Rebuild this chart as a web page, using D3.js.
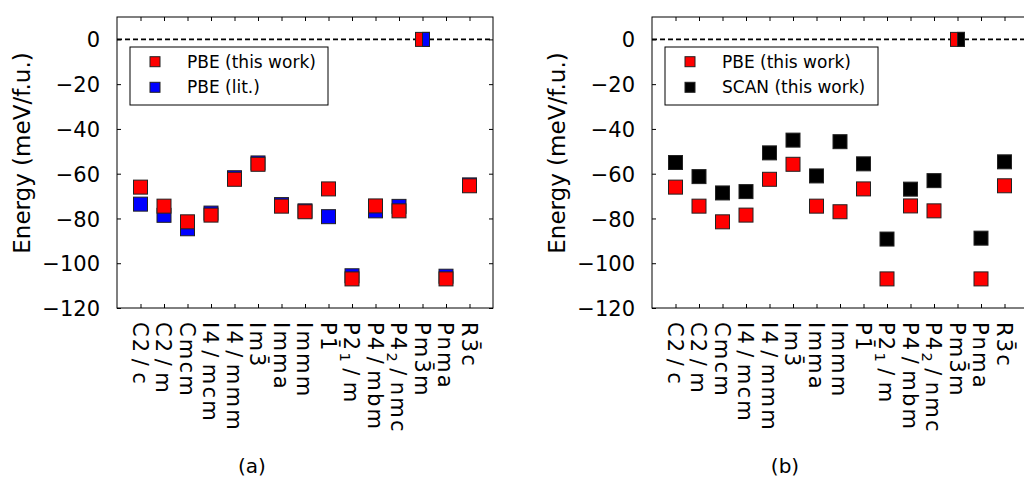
<!DOCTYPE html>
<html><head><meta charset="utf-8">
<script src="https://cdn.jsdelivr.net/npm/d3@7"></script>
<style>body{margin:0;background:#fff}svg{display:block}text{font-family:"DejaVu Sans";fill:#000}</style>
</head><body>
<svg id="c" width="1024" height="482"></svg>
<script>
// ---- data ----
const categories = ["C2/c","C2/m","Cmcm","I4/mcm","I4/mmm","Im-3","Imma","Immm","P-1","P2_1/m","P4/mbm","P4_2/nmc","Pm-3m","Pnma","R-3c"];
const pbeThisWork = [-66,-74.5,-81.5,-78.5,-62.5,-55.8,-74.5,-77,-66.8,-107,-74.4,-76.6,0,-107,-65.4];
const pbeLit      = [-73.6,-78.6,-84.6,-77.6,-61.8,-55.2,-73.8,-76.6,-79.2,-105.6,-76.6,-74.6,0,-105.8,-65];
const scanThisWork= [-55,-61.3,-68.6,-68,-50.7,-45,-61,-45.7,-55.6,-89.2,-66.9,-63.1,0,-88.8,-54.7];
const yTicks = [0,-20,-40,-60,-80,-100,-120];
const panelLabels = ["(a)","(b)"];
const legendA = ["PBE (this work)","PBE (lit.)"];
const legendB = ["PBE (this work)","SCAN (this work)"];

const svg = d3.select("#c");
const T = 4, MS = 14, LMS = 10;

function richLabel(sel, s){
  let i=0;
  while(i<s.length){
    const ch=s[i];
    if(ch==='-'){ sel.append("tspan").text(s[i+1]+"\u0304"); i+=2; }
    else if(ch==='_'){ sel.append("tspan").attr("baseline-shift","-25%").style("font-size","70%").text(s[i+1]); i+=2; }
    else if(ch==='/'){ sel.append("tspan").text("\u200A/\u200A"); i+=1; }
    else { let j=i; let t=""; while(j<s.length && !'-_/'.includes(s[j])){t+=s[j]; j++;} sel.append("tspan").text(t); i=j; }
  }
}

function panel(opt){
  const x = d3.scaleLinear().domain([-1,15]).range([opt.x0,opt.x1]);
  const y = d3.scaleLinear().domain([-120,10]).range([308,17]);
  const g = svg.append("g");
  g.append("line").attr("x1",opt.x0).attr("x2",opt.x1).attr("y1",y(0)).attr("y2",y(0))
    .attr("stroke","#000").attr("stroke-width",1.6).attr("stroke-dasharray","5,3");
  const ax = (a,tr)=>{ const gg=g.append("g").attr("transform",tr).call(a); gg.select(".domain").remove(); gg.selectAll("line").attr("stroke","#000"); return gg;};
  const yl = ax(d3.axisLeft(y).tickValues(yTicks).tickSize(-T).tickPadding(17).tickFormat(d=>d===0?"0":"\u2212"+Math.abs(d)), `translate(${opt.x0},0)`);
  yl.selectAll("text").style("font-size","21px").style("font-family","DejaVu Sans").attr("dy","0.36em");
  ax(d3.axisRight(y).tickValues(yTicks).tickSize(-T).tickFormat(""), `translate(${opt.x1},0)`);
  ax(d3.axisBottom(x).tickValues(d3.range(categories.length)).tickSize(-T).tickFormat(""), `translate(0,308)`);
  ax(d3.axisTop(x).tickValues(d3.range(categories.length)).tickSize(-T).tickFormat(""), `translate(0,17)`);
  g.append("rect").attr("x",opt.x0).attr("y",17).attr("width",opt.x1-opt.x0).attr("height",291)
    .attr("fill","none").attr("stroke","#000").attr("stroke-width",1);
  categories.forEach((c,i)=>{
    const t=g.append("text").attr("transform",`translate(${x(i)},322) rotate(90)`)
      .attr("dy","0.36em").style("font-size","21px").attr("letter-spacing","2.2px");
    richLabel(t,c);
  });
  g.append("text").attr("transform",`translate(${opt.yl},153) rotate(-90)`).attr("text-anchor","middle")
    .attr("dy","0.36em").style("font-size","23px").text("Energy (meV/f.u.)");
  const drawSeries=(vals,color,mode)=>{
    vals.forEach((v,i)=>{
      if(mode==="refHalf" && v!==0) return;
      if(mode==="skipRef" && v===0) return;
      const hv = (v===0 && (mode==="half"||mode==="refHalf"));
      g.append("rect").attr("x",hv?x(i):x(i)-MS/2).attr("y",y(v)-MS/2).attr("width",hv?MS/2:MS).attr("height",MS)
        .attr("fill",color).attr("stroke","#222").attr("stroke-width",1);
    });
  };
  opt.series.forEach(s=>drawSeries(s.vals,s.color,s.mode));
  const lg=g.append("g");
  lg.append("rect").attr("x",opt.x0+13).attr("y",47).attr("width",opt.lw).attr("height",58)
    .attr("fill","#fff").attr("stroke","#000").attr("stroke-width",1);
  opt.legend.forEach((L,k)=>{
    const yy=61.7+k*25.6;
    lg.append("rect").attr("x",opt.x0+38-LMS/2).attr("y",yy-LMS/2).attr("width",LMS).attr("height",LMS)
      .attr("fill",opt.colors[k]).attr("stroke","#222");
    lg.append("text").attr("x",opt.x0+70).attr("y",yy).attr("dy","0.36em").style("font-size","17px").text(L);
  });
  g.append("text").attr("x",opt.cap).attr("y",466).attr("dy","0.36em").attr("text-anchor","middle")
    .style("font-size","20px").text(opt.caption);
}

panel({x0:117,x1:493,yl:22,cap:252,caption:panelLabels[0],lw:198,legend:legendA,colors:["#ff0000","#0000ff"],
  series:[{vals:pbeLit,color:"#0000ff",mode:"skipRef"},{vals:pbeThisWork,color:"#ff0000",mode:"full"},
          {vals:pbeLit,color:"#0000ff",mode:"refHalf"}]});
panel({x0:652,x1:1028,yl:557,cap:785,caption:panelLabels[1],lw:213,legend:legendB,colors:["#ff0000","#000000"],
  series:[{vals:pbeThisWork,color:"#ff0000",mode:"full"},{vals:scanThisWork,color:"#000000",mode:"half"}]});
</script>
</body></html>
